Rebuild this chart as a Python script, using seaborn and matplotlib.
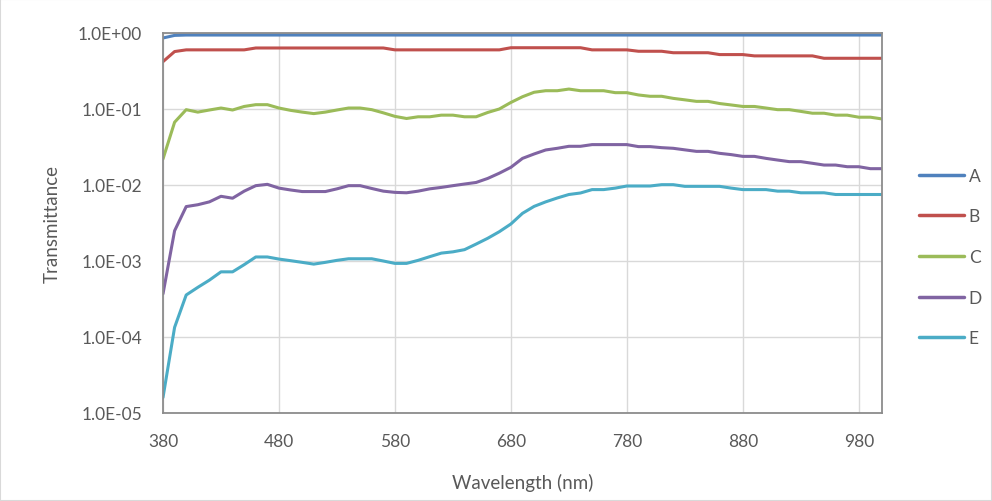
import numpy as np
import pandas as pd
import seaborn as sns
import matplotlib.pyplot as plt
from matplotlib.ticker import FixedLocator, FuncFormatter, NullLocator

wavelength = list(range(380, 1001, 10))

trans_a = [0.86, 0.93] + [0.94] * 61

trans_b = [0.42, 0.57, 0.60, 0.60, 0.60, 0.60, 0.60, 0.60, 0.635, 0.635,
           0.635, 0.635, 0.635, 0.635, 0.635, 0.635, 0.635, 0.635, 0.635, 0.635,
           0.60, 0.60, 0.60, 0.60, 0.60, 0.60, 0.60, 0.60, 0.60, 0.60,
           0.64, 0.64, 0.64, 0.64, 0.64, 0.64, 0.64, 0.60, 0.60, 0.60,
           0.60, 0.575, 0.575, 0.575, 0.55, 0.55, 0.55, 0.55, 0.52, 0.52,
           0.52, 0.50, 0.50, 0.50, 0.50, 0.50, 0.50, 0.465, 0.465, 0.465,
           0.465, 0.465, 0.465]

trans_c = [0.022, 0.067, 0.098, 0.091, 0.097, 0.103, 0.097, 0.108, 0.114, 0.114,
           0.103, 0.096, 0.091, 0.087, 0.091, 0.097, 0.103, 0.103, 0.098, 0.089,
           0.080, 0.075, 0.079, 0.079, 0.083, 0.083, 0.079, 0.079, 0.090, 0.100,
           0.122, 0.145, 0.166, 0.174, 0.174, 0.183, 0.174, 0.174, 0.174, 0.164,
           0.164, 0.153, 0.147, 0.147, 0.138, 0.132, 0.126, 0.126, 0.118, 0.113,
           0.108, 0.108, 0.103, 0.098, 0.098, 0.093, 0.088, 0.088, 0.083, 0.083,
           0.078, 0.078, 0.074]

trans_d = [0.00037, 0.0025, 0.0052, 0.0055, 0.0060, 0.0071, 0.0067, 0.0083, 0.0098, 0.0102,
           0.0091, 0.0086, 0.0082, 0.0082, 0.0082, 0.0089, 0.0098, 0.0098, 0.0090, 0.0083,
           0.0080, 0.0079, 0.0083, 0.0089, 0.0093, 0.0098, 0.0103, 0.0108, 0.0122, 0.0143,
           0.0171, 0.0224, 0.0256, 0.0289, 0.0304, 0.0323, 0.0323, 0.0340, 0.0340, 0.0340,
           0.0340, 0.0320, 0.0320, 0.0310, 0.0304, 0.0290, 0.0277, 0.0277, 0.0261, 0.0251,
           0.0238, 0.0238, 0.0224, 0.0213, 0.0203, 0.0203, 0.0193, 0.0183, 0.0183, 0.0174,
           0.0174, 0.0164, 0.0164]

trans_e = [1.6e-5, 1.34e-4, 3.57e-4, 4.5e-4, 5.6e-4, 7.2e-4, 7.2e-4, 8.95e-4, 1.13e-3, 1.13e-3,
           1.06e-3, 1.01e-3, 9.6e-4, 9.1e-4, 9.6e-4, 1.02e-3, 1.07e-3, 1.07e-3, 1.07e-3, 1.0e-3,
           9.3e-4, 9.3e-4, 1.02e-3, 1.14e-3, 1.27e-3, 1.32e-3, 1.41e-3, 1.67e-3, 1.99e-3, 2.43e-3,
           3.07e-3, 4.24e-3, 5.23e-3, 6.0e-3, 6.75e-3, 7.5e-3, 7.85e-3, 8.7e-3, 8.7e-3, 9.1e-3,
           9.7e-3, 9.7e-3, 9.7e-3, 0.0101, 0.0101, 0.0096, 0.0096, 0.0096, 0.0096, 0.0091,
           0.0087, 0.0087, 0.0087, 0.0083, 0.0083, 0.0079, 0.0079, 0.0079, 0.0075, 0.0075,
           0.0075, 0.0075, 0.0075]

series_names = ["A", "B", "C", "D", "E"]
colors = ["#4F81BD", "#C0504D", "#9BBB59", "#8064A2", "#4BACC6"]

df = pd.concat([
    pd.DataFrame({"Wavelength": wavelength, "Transmittance": vals, "series": name})
    for name, vals in zip(series_names, [trans_a, trans_b, trans_c, trans_d, trans_e])
])

sns.set_style("white")
plt.rcParams["font.family"] = ["Lato", "DejaVu Sans"]

fig = plt.figure(figsize=(9.92, 5.02), dpi=100)
ax = fig.add_axes([163 / 992, 1 - 414 / 502, (882 - 163) / 992, (414 - 34) / 502])

sns.lineplot(data=df, x="Wavelength", y="Transmittance", hue="series",
             palette=dict(zip(series_names, colors)), linewidth=2.2, ax=ax, legend=False)

ax.set_yscale("log")
ax.set_ylim(1e-5, 1.0)
ax.set_xlim(380, 1000)
ax.xaxis.set_major_locator(FixedLocator(list(range(380, 1000, 100))))
ax.yaxis.set_major_locator(FixedLocator([1e-5, 1e-4, 1e-3, 1e-2, 1e-1, 1.0]))
ax.yaxis.set_minor_locator(NullLocator())
ax.yaxis.set_major_formatter(FuncFormatter(lambda v, p: "{:.1E}".format(v)))

ax.grid(True, color="#d9d9d9", linewidth=1.0)
ax.set_axisbelow(True)
for sp in ax.spines.values():
    sp.set_visible(True)
    sp.set_color("#8c8c8c")
    sp.set_linewidth(1.3)
ax.tick_params(axis="both", direction="out", length=4, width=1, color="#8c8c8c",
               labelcolor="#595959", labelsize=12.5)
ax.tick_params(axis="x", pad=10.5)
ax.tick_params(axis="y", pad=11)

ax.set_xlabel("Wavelength (nm)", fontsize=13.5, color="#595959", labelpad=17)
ax.set_ylabel("Transmittance", fontsize=13.5, color="#595959", labelpad=12)

handles = [plt.Line2D([], [], color=c, linewidth=2.5) for c in colors]
fig.legend(handles, series_names, loc="center left", bbox_to_anchor=(0.911, 0.486),
           frameon=False, fontsize=12.5, handlelength=2.6, labelspacing=1.42,
           handletextpad=0.25, labelcolor="#595959")

fig.patches.append(plt.Rectangle((0, 0), 1, 1, transform=fig.transFigure,
                                 fill=False, edgecolor="#d9d9d9", linewidth=1.5))

fig.savefig("out.png", dpi=100)
